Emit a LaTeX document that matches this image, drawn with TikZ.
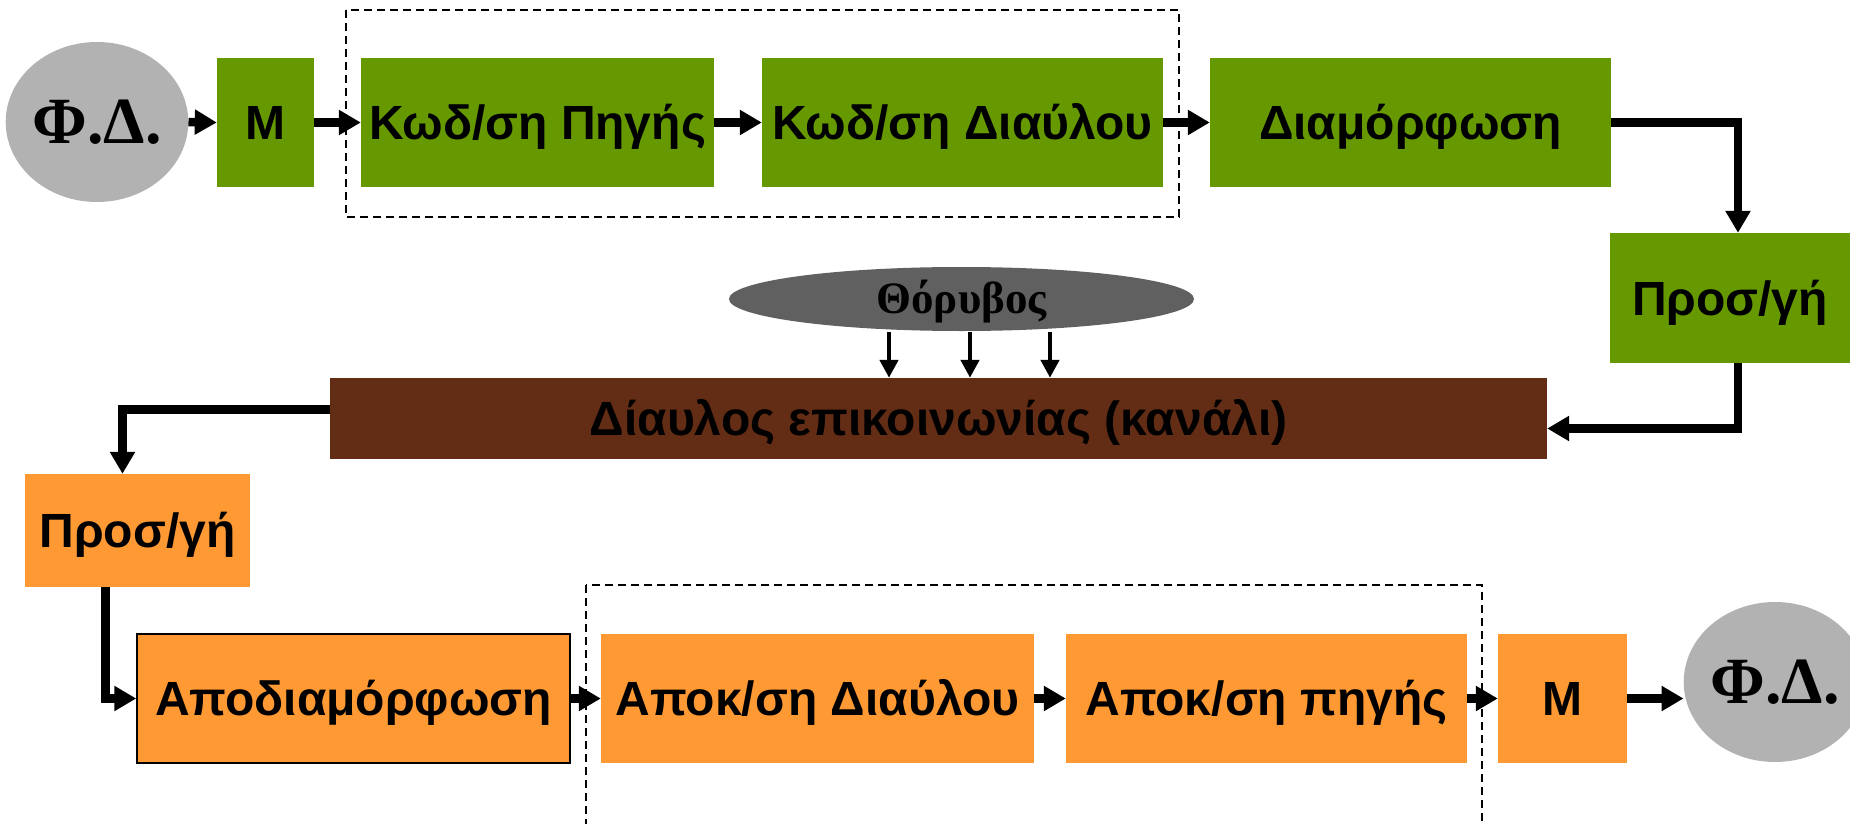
\documentclass[tikz,border=0pt]{standalone}
\usepackage{fontspec}
\setmainfont{Liberation Serif}
\setsansfont{Liberation Sans}
\usetikzlibrary{arrows.meta,shapes.geometric,calc}
\definecolor{txgreen}{RGB}{102,153,0}
\definecolor{rxorange}{RGB}{255,153,51}
\definecolor{chanbrown}{RGB}{99,44,20}
\definecolor{srcgray}{RGB}{178,178,178}
\definecolor{noisegray}{RGB}{96,96,96}
\begin{document}
\begin{tikzpicture}[x=1pt,y=-1pt,
  blk/.style={rectangle, inner sep=0pt, text=black,
    font=\sffamily\bfseries\fontsize{48}{56}\selectfont,
    text height=34.4pt, text depth=0pt},
  txblk/.style={blk, fill=txgreen},
  rxblk/.style={blk, fill=rxorange},
  srcnode/.style={ellipse, inner sep=0pt, fill=srcgray,
    minimum width=176pt, minimum height=160pt,
    font=\rmfamily\bfseries\fontsize{66}{76}\selectfont,
    text height=43.7pt, text depth=0pt},
  conn/.style={line width=8.5pt, line join=miter,
    -{Triangle[length=22pt,width=24pt]}},
  nconn/.style={line width=4.5pt,
    -{Triangle[length=18pt,width=18pt]}},
  group/.style={draw=black, line width=1.8pt, dash pattern=on 8pt off 5pt}
]
\clip (0,0) rectangle (1850,824);
\fill[white] (0,0) rectangle (1850,824);

% dashed groups around the coders / decoders
\draw[group] (346,10) rectangle (1179,217);
\draw[group] (586,585) rectangle (1482,840);

% transmitter chain
\node[srcnode] (fd1) at (97,122) {Φ.Δ.};
\node[txblk, minimum width=97pt, minimum height=129pt] (m1) at (265.5,122.5) {M};
\node[txblk, minimum width=353pt, minimum height=129pt] (srcenc) at (537.5,122.5) {Κωδ/ση Πηγής};
\node[txblk, minimum width=401pt, minimum height=129pt] (chenc) at (962.5,122.5) {Κωδ/ση Διαύλου};
\node[txblk, minimum width=401pt, minimum height=129pt] (mod) at (1410.5,122.5) {Διαμόρφωση};
\node[txblk, minimum width=240pt, minimum height=130pt] (ptx) at (1730,298) {Προσ/γή};

% channel and noise
\node[ellipse, inner sep=0pt, fill=noisegray, minimum width=465pt, minimum height=64pt,
  font=\rmfamily\bfseries\fontsize{45}{52}\selectfont, text height=29.8pt, text depth=0pt]
  (noise) at (961.5,299) {Θόρυβος};
\node[blk, fill=chanbrown, minimum width=1217pt, minimum height=81pt] (chan) at (938.5,418.5)
  {Δίαυλος επικοινωνίας (κανάλι)};

% receiver chain
\node[rxblk, minimum width=225pt, minimum height=113pt] (prx) at (137.5,530.5) {Προσ/γή};
\node[rxblk, draw=black, line width=1.5pt, minimum width=433pt, minimum height=129pt] (demod) at (353.5,698.5) {Αποδιαμόρφωση};
\node[rxblk, minimum width=433pt, minimum height=129pt] (chdec) at (817.5,698.5) {Αποκ/ση Διαύλου};
\node[rxblk, minimum width=401pt, minimum height=129pt] (srcdec) at (1266.5,698.5) {Αποκ/ση πηγής};
\node[rxblk, minimum width=129pt, minimum height=129pt] (m2) at (1562.5,698.5) {M};
\node[srcnode, minimum width=170pt] (fd2) at (1775,682) {Φ.Δ.};

% connectors
\draw[conn] (fd1.east) -- (m1.west);
\draw[conn] (m1.east) -- (srcenc.west);
\draw[conn] (srcenc.east) -- (chenc.west);
\draw[conn] (chenc.east) -- (mod.west);
\draw[conn] (mod.east) -| ([xshift=8pt]ptx.north);
\draw[conn] ([xshift=8pt]ptx.south) |- ([yshift=-10pt]chan.east);
\draw[conn] ([yshift=9pt]chan.west) -| ([xshift=-15pt]prx.north);
\draw[conn] ([xshift=-32pt]prx.south) |- (demod.west);
\draw[conn] (demod.east) -- (chdec.west);
\draw[conn] (chdec.east) -- (srcdec.west);
\draw[conn] (srcdec.east) -- (m2.west);
\draw[conn] (m2.east) -- (m2.east -| fd2.west);

% noise entering the channel
\coordinate (n1) at ($(noise.south)+(-72.5,1)$);
\coordinate (n2) at ($(noise.south)+(8.5,1)$);
\coordinate (n3) at ($(noise.south)+(88.5,1)$);
\draw[nconn] (n1) -- (n1 |- chan.north);
\draw[nconn] (n2) -- (n2 |- chan.north);
\draw[nconn] (n3) -- (n3 |- chan.north);
\end{tikzpicture}
\end{document}
